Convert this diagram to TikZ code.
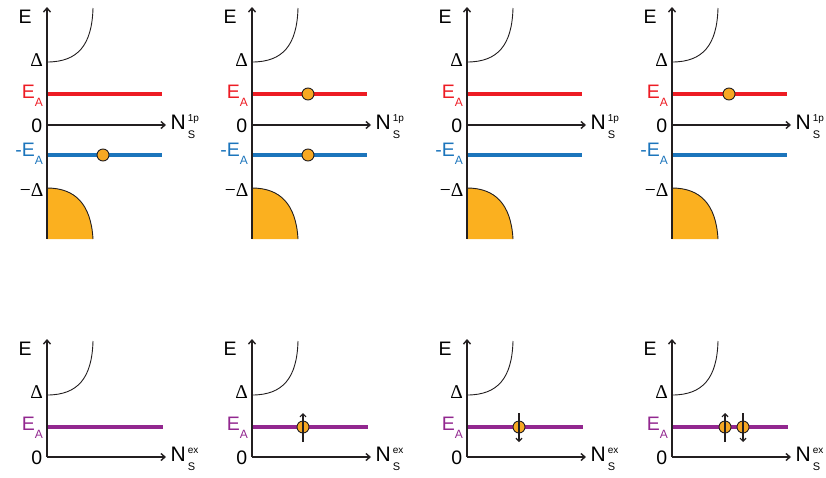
\documentclass[tikz,border=0pt]{standalone}
\usepackage{fontspec}
\setmainfont{Liberation Sans}
\newfontfamily\serifgreek{Liberation Serif}
\usetikzlibrary{arrows.meta}
\definecolor{lvred}{HTML}{ED1C24}
\definecolor{lvblue}{HTML}{1C75BC}
\definecolor{lvpurple}{HTML}{92278F}
\definecolor{lvorange}{HTML}{FBB01F}
\definecolor{lvdot}{HTML}{F7A823}
\definecolor{lvgray}{HTML}{231F20}
\tikzset{
  axisline/.style={draw=lvgray, line width=1.4pt, -{Straight Barb[length=4pt,width=7pt,line width=1.4pt]}},
  dos/.style={draw=lvgray, line width=0.9pt},
  dosfill/.style={fill=lvorange},
  level/.style={line width=3.8pt},
  dot/.style={circle, draw=lvgray, line width=0.9pt, fill=lvdot, minimum size=12pt, inner sep=0pt},
  spinarrow/.style={draw=lvgray, line width=1.2pt, -{Straight Barb[length=3pt,width=6pt,line width=1.2pt]}},
  lab/.style={anchor=base east, inner sep=0pt, font=\fontsize{19.5}{19.5}\selectfont},
  toplab/.style={anchor=base west, inner sep=0pt, font=\fontsize{19.5}{19.5}\selectfont},
  nlab/.style={anchor=base west, inner sep=0pt, font=\fontsize{21}{21}\selectfont},
}
\newcommand{\subA}{\raisebox{-8pt}{\fontsize{12}{12}\selectfont A}}
\newcommand{\nsup}[1]{N\hspace{2pt}\rlap{\raisebox{-9pt}{\fontsize{11}{11}\selectfont S}}\raisebox{8pt}{\fontsize{10}{10}\selectfont #1}}
\begin{document}
\begin{tikzpicture}[x=1pt,y=-1pt]
\path[use as bounding box] (0,0) rectangle (826,477);
% ---------------- top row ----------------
\foreach \i/\X in {1/47,2/252,3/467,4/672}{
  \coordinate (tb\i) at (\X,239);
  \coordinate (tt\i) at (\X,7);
  \coordinate (tz\i) at (\X,125);
  \coordinate (tze\i) at (\X+119,125);
  \coordinate (tr\i) at (\X,94);
  \coordinate (tre\i) at (\X+115,94);
  \coordinate (tbl\i) at (\X,155);
  \coordinate (tble\i) at (\X+115,155);
  % valence band fill
  \fill[dosfill] (\X,188) .. controls (\X+28,188) and (\X+44,204) .. (\X+46,239) -- (\X,239) -- cycle;
  \draw[dos] (\X,188) .. controls (\X+28,188) and (\X+44,204) .. (\X+46,239);
  % upper DOS
  \draw[dos] (\X,62) .. controls (\X+31,62) and (\X+45,45) .. (\X+46,8);
  % levels
  \draw[level, lvred] (tr\i) -- (tre\i);
  \draw[level, lvblue] (tbl\i) -- (tble\i);
  % axes
  \draw[axisline] (tb\i) -- (tt\i);
  \draw[axisline] (tz\i) -- (tze\i);
  % labels
  \node[toplab] (tE\i) at (\X-28.5,23) {E};
  \node[lab, font=\serifgreek\fontsize{19.5}{19.5}\selectfont] (tD\i) at (\X-4,66) {Δ};
  \node[lab, text=lvred] (tEA\i) at (\X-4,98) {E\subA};
  \node[lab] (tZ\i) at (\X-4.5,132) {0};
  \node[lab, text=lvblue] (tmEA\i) at (\X-4,156) {-E\subA};
  \node[lab, font=\serifgreek\fontsize{19.5}{19.5}\selectfont] (tmD\i) at (\X-3.5,196.5) {−Δ};
  \node[nlab] (tN\i) at (\X+123.5,129.5) {\nsup{1p}};
}
% electrons, top row
\node[dot] (d1) at (103,155) {};
\node[dot] (d2a) at (308,94) {};
\node[dot] (d2b) at (308,155) {};
\node[dot] (d4) at (729,94) {};
% ---------------- bottom row ----------------
\foreach \i/\X in {1/47,2/252,3/467,4/672}{
  \coordinate (bo\i) at (\X,457);
  \coordinate (bt\i) at (\X,339);
  \coordinate (bx\i) at (\X+119,457);
  \coordinate (bp\i) at (\X,427);
  \coordinate (bpe\i) at (\X+116,427);
  \draw[dos] (\X,395) .. controls (\X+31,395) and (\X+45,378) .. (\X+46,341);
  \draw[level, lvpurple] (bp\i) -- (bpe\i);
  \draw[axisline] (bo\i) -- (bt\i);
  \draw[axisline] (bo\i) -- (bx\i);
  \node[toplab] (bE\i) at (\X-28.5,355) {E};
  \node[lab, font=\serifgreek\fontsize{19.5}{19.5}\selectfont] (bD\i) at (\X-4,398) {Δ};
  \node[lab, text=lvpurple] (bEA\i) at (\X-4,430) {E\subA};
  \node[lab] (bZ\i) at (\X-4.5,464) {0};
  \node[nlab] (bN\i) at (\X+123.5,461.5) {\nsup{ex}};
}
% electrons with spins, bottom row
\node[dot] (s2) at (303,427) {};
\draw[spinarrow] (s2.center) ++(0,15) -- ++(0,-29);
\node[dot] (s3) at (519,427) {};
\draw[spinarrow] (s3.center) ++(0,-14) -- ++(0,29);
\node[dot] (s4a) at (725,427) {};
\draw[spinarrow] (s4a.center) ++(0,15) -- ++(0,-29);
\node[dot] (s4b) at (743,427) {};
\draw[spinarrow] (s4b.center) ++(0,-14) -- ++(0,29);
\end{tikzpicture}
\end{document}
